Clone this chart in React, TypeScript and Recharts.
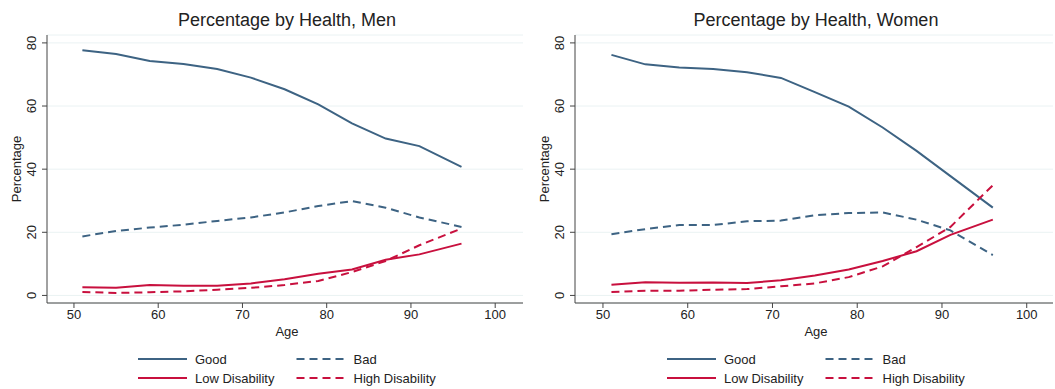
import React from 'react';
import { LineChart, Line, XAxis, YAxis, CartesianGrid } from 'recharts';

const ages = [51, 55, 59, 63, 67, 71, 75, 79, 83, 87, 91, 96];

const menGood = [77.7, 76.5, 74.3, 73.3, 71.7, 69.0, 65.3, 60.5, 54.5, 49.7, 47.3, 40.7];
const menBad = [18.7, 20.4, 21.5, 22.4, 23.6, 24.7, 26.3, 28.3, 29.9, 27.8, 24.7, 21.7];
const menLow = [2.6, 2.4, 3.3, 3.1, 3.1, 3.8, 5.1, 6.9, 8.2, 11.3, 13.0, 16.4];
const menHigh = [1.1, 0.8, 1.0, 1.3, 1.8, 2.4, 3.3, 4.6, 7.4, 10.9, 15.9, 21.2];

const womenGood = [76.2, 73.2, 72.2, 71.7, 70.7, 68.9, 64.4, 59.8, 53.2, 45.8, 37.8, 27.8];
const womenBad = [19.4, 21.0, 22.3, 22.3, 23.5, 23.7, 25.4, 26.1, 26.3, 24.0, 20.6, 12.8];
const womenLow = [3.4, 4.2, 4.0, 4.1, 3.9, 4.8, 6.3, 8.2, 10.9, 14.0, 19.2, 24.0];
const womenHigh = [1.1, 1.5, 1.5, 1.8, 2.0, 2.9, 3.8, 5.8, 9.2, 15.3, 21.7, 34.9];

const xTicks = [50, 60, 70, 80, 90, 100];
const yTicks = [0, 20, 40, 60, 80];

const BLUE = '#3d6383';
const RED = '#c8103e';
const AXIS = '#444444';
const FONT = '"Liberation Sans", Arial, Helvetica, sans-serif';

const W = 527;
const H = 389;
const PLOT_TOP = 35;
const PLOT_BOTTOM = 303;

const YTick = (props: any) => {
  const { x, y, payload } = props;
  const bx = x - 4;
  return (
    <text
      x={bx}
      y={y}
      transform={`rotate(-90, ${bx}, ${y})`}
      textAnchor="middle"
      fontSize={13}
      fontFamily={FONT}
      fill="#222"
    >
      {payload.value}
    </text>
  );
};

interface PanelProps {
  title: string;
  good: number[];
  bad: number[];
  low: number[];
  high: number[];
  left: number;
  marginRight: number;
  xDomain: [number, number];
}

const Panel: React.FC<PanelProps> = ({ title, good, bad, low, high, left, marginRight, xDomain }) => {
  const rows = ages.map((age, i) => ({
    age,
    good: good[i],
    bad: bad[i],
    low: low[i],
    high: high[i],
  }));
  const plotLeft = 47;
  const plotRight = W - marginRight;
  const cx = (plotLeft + plotRight) / 2;
  const legendRows = [
    { y: 359, items: [{ label: 'Good', color: BLUE, dash: undefined }, { label: 'Bad', color: BLUE, dash: '8 5' }] },
    { y: 378, items: [{ label: 'Low Disability', color: RED, dash: undefined }, { label: 'High Disability', color: RED, dash: '8 5' }] },
  ];

  return (
    <div style={{ position: 'absolute', left, top: 0, width: W, height: H }}>
      <LineChart
        width={W}
        height={H}
        data={rows}
        margin={{ top: PLOT_TOP, right: marginRight, left: 0, bottom: H - PLOT_BOTTOM - 30 }}
      >
        <CartesianGrid horizontal vertical={false} stroke="#eaf2f3" strokeWidth={1} />
        <XAxis
          dataKey="age"
          type="number"
          domain={xDomain}
          ticks={xTicks}
          allowDataOverflow
          height={30}
          tickSize={5}
          stroke={AXIS}
          tick={{ fill: '#222', fontSize: 13, fontFamily: FONT }}
        />
        <YAxis
          type="number"
          domain={[-2.4, 82.5]}
          ticks={yTicks}
          allowDataOverflow
          width={plotLeft}
          tickSize={5}
          stroke={AXIS}
          tick={<YTick />}
        />
        <Line type="linear" dataKey="good" stroke={BLUE} strokeWidth={2} dot={false} isAnimationActive={false} />
        <Line type="linear" dataKey="bad" stroke={BLUE} strokeWidth={2} strokeDasharray="8 5" dot={false} isAnimationActive={false} />
        <Line type="linear" dataKey="low" stroke={RED} strokeWidth={2} dot={false} isAnimationActive={false} />
        <Line type="linear" dataKey="high" stroke={RED} strokeWidth={2} strokeDasharray="8 5" dot={false} isAnimationActive={false} />
      </LineChart>
      <svg
        width={W}
        height={H}
        style={{ position: 'absolute', left: 0, top: 0, pointerEvents: 'none' }}
        fontFamily={FONT}
      >
        <text x={cx + 2} y={26} textAnchor="middle" fontSize={18} fill="#222">
          {title}
        </text>
        <text
          x={20.5}
          y={(PLOT_TOP + PLOT_BOTTOM) / 2}
          transform={`rotate(-90, 20.5, ${(PLOT_TOP + PLOT_BOTTOM) / 2})`}
          textAnchor="middle"
          fontSize={13}
          fill="#222"
        >
          Percentage
        </text>
        <text x={cx + 2} y={336} textAnchor="middle" fontSize={13} fill="#222">
          Age
        </text>
        {legendRows.map((row) =>
          row.items.map((it, j) => {
            const x0 = cx + (j === 0 ? -147 : 11.5);
            return (
              <g key={it.label}>
                <line x1={x0} x2={x0 + 49} y1={row.y} y2={row.y} stroke={it.color} strokeWidth={2} strokeDasharray={it.dash} />
                <text x={x0 + 57} y={row.y + 4.7} fontSize={13} fill="#222">
                  {it.label}
                </text>
              </g>
            );
          })
        )}
      </svg>
    </div>
  );
};

export default function App() {
  return (
    <div style={{ position: 'absolute', left: 0, top: 0, width: 1055, height: 389, background: '#fff' }}>
      <Panel
        title="Percentage by Health, Men"
        good={menGood}
        bad={menBad}
        low={menLow}
        high={menHigh}
        left={0}
        marginRight={4}
        xDomain={[46.8, 103.3]}
      />
      <Panel
        title="Percentage by Health, Women"
        good={womenGood}
        bad={womenBad}
        low={womenLow}
        high={womenHigh}
        left={528}
        marginRight={2}
        xDomain={[46.7, 103.1]}
      />
    </div>
  );
}
